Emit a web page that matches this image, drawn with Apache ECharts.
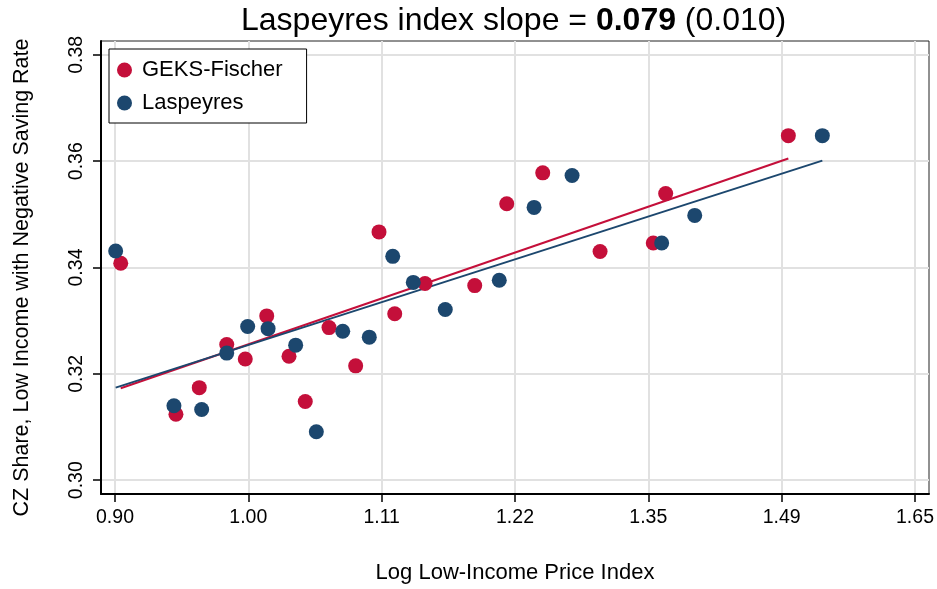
<!DOCTYPE html>
<html>
<head>
<meta charset="utf-8">
<script src="https://cdn.jsdelivr.net/npm/echarts@6/dist/echarts.min.js"></script>
<style>
  html, body { margin: 0; padding: 0; background: #fff; }
  #chart { width: 937px; height: 589px; }
</style>
</head>
<body>
<div id="chart"></div>
<script>
// Log price index (x) and CZ share (y) for each bin
const geksX = [-0.0957, -0.0543, -0.0368, -0.0162, -0.0023, 0.0138, 0.0305, 0.0427, 0.0605, 0.0805,
               0.0980, 0.1098, 0.1325, 0.1698, 0.1938, 0.2208, 0.2638, 0.3037, 0.3130, 0.4050];
const geksY = [0.3408, 0.3124, 0.3174, 0.3255, 0.3228, 0.3309, 0.3233, 0.3148, 0.3287, 0.3215,
               0.3467, 0.3313, 0.3370, 0.3366, 0.3520, 0.3578, 0.3430, 0.3446, 0.3539, 0.3648];
const laspX = [-0.0995, -0.0558, -0.0350, -0.0162, -0.0005, 0.0148, 0.0355, 0.0510, 0.0708, 0.0907,
               0.1083, 0.1237, 0.1477, 0.1882, 0.2143, 0.2428, 0.3100, 0.3348, 0.4305];
const laspY = [0.3431, 0.3140, 0.3133, 0.3239, 0.3289, 0.3285, 0.3254, 0.3091, 0.3280, 0.3269,
               0.3421, 0.3372, 0.3321, 0.3376, 0.3513, 0.3573, 0.3446, 0.3498, 0.3648];

// Fitted lines: endpoints [x, y]
const geksFitX = [-0.0957, 0.4050];
const geksFitY = [0.3173, 0.3605];
const laspFitX = [-0.0995, 0.4305];
const laspFitY = [0.3174, 0.3601];

// Axis ticks (x ticks sit at log values, labelled with the price index level)
const xTickVals = [-0.1, 0.0, 0.1, 0.2, 0.3, 0.4, 0.5];
const xTickLabels = ['0.90', '1.00', '1.11', '1.22', '1.35', '1.49', '1.65'];
const yTickVals = [0.30, 0.32, 0.34, 0.36, 0.38];
const yTickLabels = ['0.30', '0.32', '0.34', '0.36', '0.38'];

const RED = '#c40f3a';
const BLUE = '#1c476e';
const FONT = 'Liberation Sans, Arial, Helvetica, sans-serif';

const zip = (xs, ys) => xs.map((x, i) => [x, ys[i]]);
const labelFor = (vals, labels) => v => {
  const i = vals.findIndex(t => Math.abs(t - v) < 1e-9);
  return i >= 0 ? labels[i] : '';
};

const chart = echarts.init(document.getElementById('chart'), null, { renderer: 'canvas' });
chart.setOption({
  backgroundColor: '#fff',
  animation: false,
  title: {
    text: 'Laspeyres index slope = {b|0.079} (0.010)',
    left: 236,
    top: 0,
    textStyle: {
      fontFamily: FONT, fontSize: 32, fontWeight: 'normal', color: '#000',
      rich: { b: { fontFamily: FONT, fontSize: 32, fontWeight: 'bold', color: '#000' } }
    }
  },
  legend: {
    left: 109, top: 49,
    orient: 'vertical',
    backgroundColor: '#fff',
    borderColor: '#000', borderWidth: 1,
    padding: [10, 24, 9, 8],
    itemGap: 11,
    itemWidth: 15, itemHeight: 15,
    textStyle: { fontFamily: FONT, fontSize: 22, color: '#000', padding: [0, 0, 0, 5] },
    data: [
      { name: 'GEKS-Fischer', icon: 'circle' },
      { name: 'Laspeyres', icon: 'circle' }
    ]
  },
  grid: {
    left: 101, top: 41, right: 8, bottom: 94,
    show: true, borderColor: '#222', borderWidth: 1, backgroundColor: '#fff'
  },
  xAxis: {
    type: 'value',
    min: -0.1105, max: 0.5105,
    name: 'Log Low-Income Price Index',
    nameLocation: 'middle', nameGap: 68,
    nameTextStyle: { fontFamily: FONT, fontSize: 22, color: '#000' },
    axisLine: { onZero: false, lineStyle: { color: '#000', width: 2 } },
    axisTick: { customValues: xTickVals, length: 8, lineStyle: { color: '#000', width: 1.5 } },
    axisLabel: {
      customValues: xTickVals, margin: 14,
      fontFamily: FONT, fontSize: 19.5, color: '#000',
      formatter: labelFor(xTickVals, xTickLabels)
    },
    splitLine: { show: true, lineStyle: { color: '#e1e1e1', width: 2 } }
  },
  yAxis: {
    type: 'value',
    min: 0.2974, max: 0.3826,
    name: 'CZ Share, Low Income with Negative Saving Rate',
    nameLocation: 'middle', nameGap: 68,
    nameTextStyle: { fontFamily: FONT, fontSize: 21.5, color: '#000', padding: [0, 20, 0, 0] },
    axisLine: { onZero: false, lineStyle: { color: '#000', width: 2 } },
    axisTick: { customValues: yTickVals, length: 8, lineStyle: { color: '#000', width: 1.5 } },
    axisLabel: {
      customValues: yTickVals, margin: 14, rotate: 90,
      fontFamily: FONT, fontSize: 19.5, color: '#000',
      formatter: labelFor(yTickVals, yTickLabels)
    },
    splitLine: { show: true, lineStyle: { color: '#e1e1e1', width: 2 } }
  },
  series: [
    {
      name: 'GEKS-Fischer fit', type: 'line', data: zip(geksFitX, geksFitY),
      symbol: 'none', lineStyle: { color: RED, width: 2 }, z: 2, silent: true
    },
    {
      name: 'Laspeyres fit', type: 'line', data: zip(laspFitX, laspFitY),
      symbol: 'none', lineStyle: { color: BLUE, width: 2 }, z: 2, silent: true
    },
    {
      name: 'GEKS-Fischer', type: 'scatter', data: zip(geksX, geksY),
      symbol: 'circle', symbolSize: 15, itemStyle: { color: RED, opacity: 1 }, z: 3
    },
    {
      name: 'Laspeyres', type: 'scatter', data: zip(laspX, laspY),
      symbol: 'circle', symbolSize: 15, itemStyle: { color: BLUE, opacity: 1 }, z: 3
    }
  ]
});
</script>
</body>
</html>
